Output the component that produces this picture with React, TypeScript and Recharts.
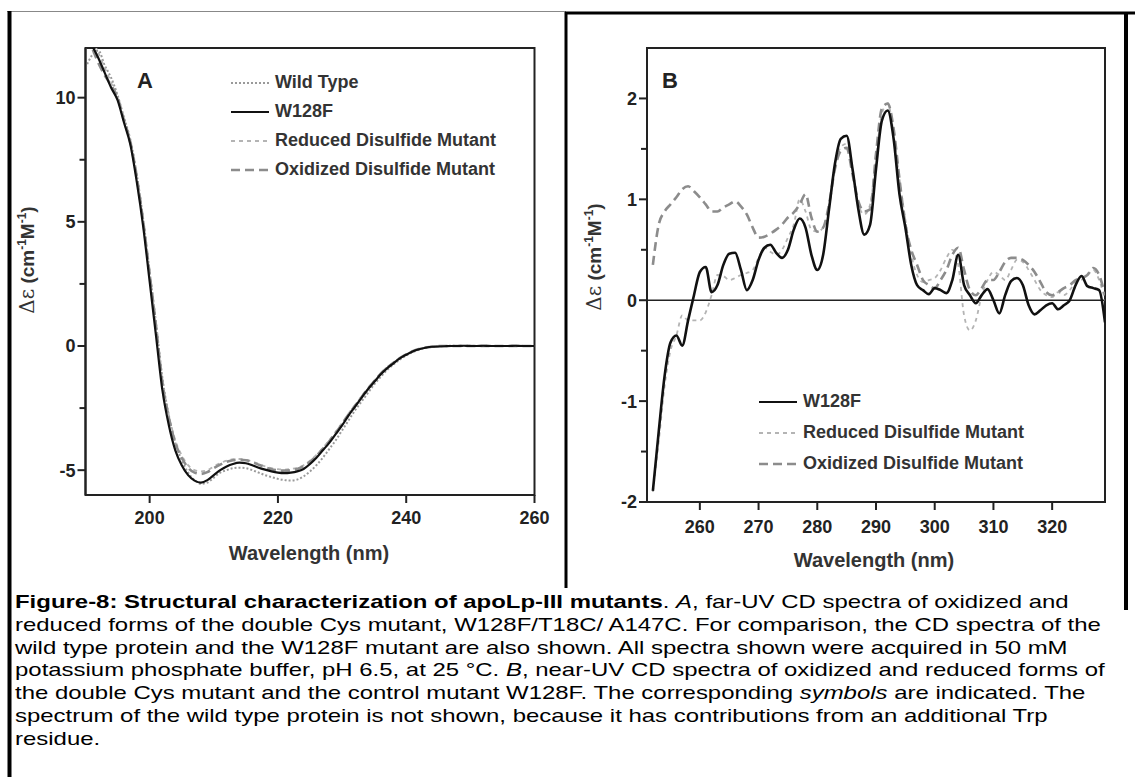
import React from 'react';
import { LineChart, Line, XAxis, YAxis, ReferenceArea, ReferenceLine, Legend } from 'recharts';

// ---------- Panel A (far-UV) ----------
const aWavelengths = [190,191,192,193,194,195,196,197,198,199,200,201,202,203,204,205,206,207,208,209,210,211,212,213,214,215,216,217,218,219,220,221,222,223,224,225,226,227,228,229,230,231,232,233,234,235,236,237,238,239,240,241,242,243,244,245,246,247,248,249,250,251,252,253,254,255,256,257,258,259,260];
const aWildType = [11.2,11.7,11.9,11.3,10.8,10.1,9.2,8.3,6.9,5.1,3.0,0.9,-1.3,-2.8,-3.9,-4.6,-5.1,-5.4,-5.55,-5.5,-5.3,-5.1,-5.0,-4.92,-4.9,-4.92,-5.0,-5.1,-5.2,-5.28,-5.35,-5.4,-5.42,-5.38,-5.25,-5.05,-4.8,-4.5,-4.15,-3.8,-3.4,-3.0,-2.6,-2.25,-1.9,-1.55,-1.25,-0.97,-0.75,-0.55,-0.38,-0.25,-0.15,-0.08,-0.04,-0.02,0.0,0.01,0.0,0.0,0.01,0.0,0.0,0.01,0.0,0.0,0.0,0.0,0.01,0.0,0.0];
const aW128F = [12.5,12.1,11.6,11.0,10.4,9.9,9.0,8.1,6.6,4.8,2.6,0.4,-1.8,-3.2,-4.2,-4.8,-5.2,-5.42,-5.5,-5.4,-5.2,-5.0,-4.85,-4.75,-4.7,-4.72,-4.8,-4.9,-4.98,-5.05,-5.1,-5.12,-5.1,-5.05,-4.95,-4.75,-4.5,-4.2,-3.9,-3.55,-3.2,-2.8,-2.45,-2.1,-1.75,-1.45,-1.15,-0.9,-0.7,-0.5,-0.35,-0.22,-0.13,-0.07,-0.03,-0.02,-0.01,0.0,0.0,0.01,0.0,0.0,0.01,0.0,0.0,0.0,0.0,0.01,0.0,0.0,0.0];
const aReduced = [12.0,12.3,11.8,11.2,10.6,10.0,9.1,8.2,6.8,5.0,2.9,0.8,-1.4,-2.8,-3.8,-4.4,-4.8,-5.0,-5.05,-5.0,-4.85,-4.72,-4.62,-4.56,-4.55,-4.58,-4.65,-4.75,-4.85,-4.92,-4.96,-4.98,-4.95,-4.9,-4.8,-4.62,-4.38,-4.1,-3.8,-3.45,-3.1,-2.72,-2.38,-2.04,-1.7,-1.4,-1.1,-0.86,-0.66,-0.48,-0.33,-0.2,-0.12,-0.06,-0.03,0.0,0.0,0.0,0.0,0.0,0.0,0.0,0.0,0.0,0.0,0.0,0.0,0.0,0.0,0.0,0.0];
const aOxidized = [12.4,12.0,11.4,10.9,10.5,10.0,9.1,8.2,6.8,5.0,2.9,0.8,-1.5,-2.9,-3.9,-4.5,-4.9,-5.1,-5.15,-5.08,-4.92,-4.78,-4.66,-4.6,-4.58,-4.6,-4.68,-4.78,-4.88,-4.96,-5.0,-5.02,-5.0,-4.95,-4.84,-4.66,-4.42,-4.14,-3.84,-3.5,-3.15,-2.76,-2.42,-2.07,-1.73,-1.42,-1.12,-0.88,-0.68,-0.49,-0.34,-0.21,-0.12,-0.06,-0.03,0.0,0.0,0.0,0.0,0.0,0.0,0.0,0.0,0.0,0.0,0.0,0.0,0.0,0.0,0.0,0.0];
const aXTicks = [200, 220, 240, 260];
const aYTicks = [-5, -2.5, 0, 2.5, 5, 7.5, 10];
const aYLabelled = [-5, 0, 5, 10];

// ---------- Panel B (near-UV) ----------
const bWavelengths = [252,253,254,255,256,257,258,259,260,261,262,263,264,265,266,267,268,269,270,271,272,273,274,275,276,277,278,279,280,281,282,283,284,285,286,287,288,289,290,291,292,293,294,295,296,297,298,299,300,301,302,303,304,305,306,307,308,309,310,311,312,313,314,315,316,317,318,319,320,321,322,323,324,325,326,327,328,329];
const bW128F = [-1.89,-1.3,-0.75,-0.42,-0.35,-0.45,-0.2,0.05,0.28,0.33,0.08,0.15,0.35,0.46,0.47,0.3,0.1,0.2,0.4,0.52,0.55,0.47,0.42,0.5,0.7,0.81,0.72,0.45,0.3,0.45,0.9,1.35,1.6,1.63,1.3,0.9,0.65,0.75,1.3,1.78,1.88,1.6,1.05,0.72,0.35,0.15,0.1,0.06,0.12,0.1,0.07,0.2,0.45,0.15,0.05,-0.03,0.05,0.11,0.0,-0.13,0.05,0.19,0.22,0.15,-0.05,-0.14,-0.1,-0.05,-0.03,-0.09,-0.05,0.0,0.15,0.24,0.14,0.12,0.1,-0.22];
const bReduced = [-1.9,-1.4,-0.85,-0.5,-0.35,-0.15,-0.2,-0.2,-0.2,-0.12,0.05,0.25,0.24,0.2,0.22,0.25,0.27,0.3,0.42,0.52,0.48,0.45,0.5,0.62,0.75,1.0,0.88,0.7,0.68,0.72,0.95,1.3,1.52,1.55,1.3,0.95,0.85,0.95,1.4,1.85,1.95,1.65,1.2,0.8,0.45,0.25,0.18,0.2,0.22,0.3,0.42,0.5,0.35,-0.15,-0.3,-0.2,0.05,0.2,0.28,0.25,0.2,0.3,0.4,0.38,0.3,0.2,0.1,0.05,0.03,0.08,0.05,0.1,0.18,0.2,0.25,0.3,0.2,0.0];
const bOxidized = [0.35,0.75,0.88,0.95,1.02,1.1,1.13,1.08,1.02,0.95,0.88,0.88,0.92,0.95,0.98,0.93,0.85,0.72,0.62,0.63,0.66,0.7,0.75,0.82,0.87,0.95,1.05,0.82,0.68,0.72,0.95,1.3,1.48,1.51,1.25,0.98,0.88,0.9,1.45,1.9,1.95,1.7,1.2,0.75,0.5,0.35,0.2,0.15,0.12,0.2,0.3,0.45,0.52,0.3,0.1,0.05,0.12,0.2,0.2,0.28,0.38,0.42,0.42,0.4,0.35,0.28,0.18,0.08,0.05,0.08,0.12,0.15,0.2,0.22,0.25,0.32,0.25,0.05];
const bXTicks = [260, 270, 280, 290, 300, 310, 320];
const bYTicks = [-2, -1.5, -1, -0.5, 0, 0.5, 1, 1.5, 2];
const bYLabelled = [-2, -1, 0, 1, 2];

const captionLines = [
  [{ t: 'Figure-8: Structural characterization of apoLp-III mutants', b: true }, { t: '. ' }, { t: 'A', i: true }, { t: ', far-UV CD spectra of oxidized and' }],
  [{ t: 'reduced forms of the double Cys mutant, W128F/T18C/ A147C. For comparison, the CD spectra of the' }],
  [{ t: 'wild type protein and the W128F mutant are also shown. All spectra shown were acquired in 50 mM' }],
  [{ t: 'potassium phosphate buffer, pH 6.5, at 25 °C. ' }, { t: 'B', i: true }, { t: ', near-UV CD spectra of oxidized and reduced forms of' }],
  [{ t: 'the double Cys mutant and the control mutant W128F. The corresponding ' }, { t: 'symbols', i: true }, { t: ' are indicated. The' }],
  [{ t: 'spectrum of the wild type protein is not shown, because it has contributions from an additional Trp' }],
  [{ t: 'residue.' }],
];

const FONT = 'Arial, "Liberation Sans", Helvetica, sans-serif';
const INK = '#222';

const styleWT = { name: 'Wild Type', color: '#9a9a9a', dash: '2 2', width: 2 };
const styleW = { name: 'W128F', color: '#111', dash: undefined as string | undefined, width: 2.2 };
const styleRed = { name: 'Reduced Disulfide Mutant', color: '#b4b4b4', dash: '4 4', width: 1.8 };
const styleOx = { name: 'Oxidized Disulfide Mutant', color: '#8c8c8c', dash: '9 5', width: 2.6 };

const aData = aWavelengths.map((w, i) => ({ w, wt: aWildType[i], w128: aW128F[i], red: aReduced[i], ox: aOxidized[i] }));
const bData = bWavelengths.map((w, i) => ({ w, w128: bW128F[i], red: bReduced[i], ox: bOxidized[i] }));

const makeYTick = (labelled: number[]) => (props: any) => {
  const { x, y, payload } = props;
  const major = labelled.includes(payload.value);
  return (
    <g>
      <line x1={x} x2={x - (major ? 8 : 6)} y1={y} y2={y} stroke={INK} strokeWidth={2} />
      {major && (
        <text x={x - 10} y={y} dy="0.36em" textAnchor="end" fontFamily={FONT} fontWeight="bold" fontSize={18} fill={INK}>
          {String(payload.value)}
        </text>
      )}
    </g>
  );
};

const makeXTick = (labelDy: number) => (props: any) => {
  const { x, y, payload } = props;
  return (
    <g>
      <line x1={x} x2={x} y1={y} y2={y + 8} stroke={INK} strokeWidth={2} />
      <text x={x} y={y + labelDy} dy="0.36em" textAnchor="middle" fontFamily={FONT} fontWeight="bold" fontSize={18} fill={INK}>
        {String(payload.value)}
      </text>
    </g>
  );
};

const makeLegend = (items: typeof styleW[], rowH: number) => () => (
  <div style={{ fontFamily: FONT, fontWeight: 'bold', fontSize: 18, color: '#333' }}>
    {items.map((s) => (
      <div key={s.name} style={{ height: rowH, display: 'flex', alignItems: 'center', whiteSpace: 'nowrap' }}>
        <svg width={40} height={10} style={{ marginRight: 5 }}>
          <line x1={1} x2={39} y1={5} y2={5} stroke={s.color} strokeWidth={s.width} strokeDasharray={s.dash} />
        </svg>
        <span>{s.name}</span>
      </div>
    ))}
  </div>
);

const YLabel = ({ x, y }: { x: number; y: number }) => (
  <text transform={`rotate(-90 ${x} ${y})`} x={x} y={y} textAnchor="middle" dy="0.35em" fontFamily={FONT} fontWeight="bold" fontSize={19} fill="#333">
    <tspan fontFamily='"DejaVu Serif", "Liberation Serif", serif' fontWeight="normal" fontSize={20}>Δε</tspan>
    <tspan> (cm</tspan>
    <tspan fontSize={12} dy={-8}>-1</tspan>
    <tspan dy={8}>M</tspan>
    <tspan fontSize={12} dy={-8}>-1</tspan>
    <tspan dy={8}>)</tspan>
  </text>
);

export default function App() {
  return (
    <div style={{ position: 'absolute', left: 0, top: 0, width: 1135, height: 777, background: '#fff', overflow: 'hidden' }}>
      {/* Panel A */}
      <div style={{ position: 'absolute', left: 0, top: 0 }}>
        <LineChart width={565} height={600} data={aData} margin={{ top: 48, right: 30.5, bottom: 65, left: 0 }}>
          <XAxis dataKey="w" type="number" domain={[190, 260]} ticks={aXTicks} interval={0} allowDataOverflow
            height={40} tickSize={0} tickMargin={0} tickLine={false} axisLine={{ stroke: INK, strokeWidth: 2 }} tick={makeXTick(23)} />
          <YAxis type="number" domain={[-6, 12]} ticks={aYTicks} interval={0} allowDataOverflow width={85.5}
            tickSize={0} tickMargin={0} tickLine={false} axisLine={{ stroke: INK, strokeWidth: 2 }} tick={makeYTick(aYLabelled)} />
          <ReferenceArea x1={190} x2={260} y1={-6} y2={12} fill="none" fillOpacity={0} stroke={INK} strokeWidth={2} />
          <Line dataKey="wt" name={styleWT.name} type="monotone" stroke={styleWT.color} strokeWidth={styleWT.width} strokeDasharray={styleWT.dash} dot={false} isAnimationActive={false} />
          <Line dataKey="red" name={styleRed.name} type="monotone" stroke={styleRed.color} strokeWidth={styleRed.width} strokeDasharray={styleRed.dash} dot={false} isAnimationActive={false} />
          <Line dataKey="ox" name={styleOx.name} type="monotone" stroke={styleOx.color} strokeWidth={styleOx.width} strokeDasharray={styleOx.dash} dot={false} isAnimationActive={false} />
          <Line dataKey="w128" name={styleW.name} type="monotone" stroke={styleW.color} strokeWidth={styleW.width} dot={false} isAnimationActive={false} />
          <Legend layout="vertical" align="center" verticalAlign="middle" wrapperStyle={{ left: 230, top: 68, width: 300 }} content={makeLegend([styleWT, styleW, styleRed, styleOx], 29)} />
        </LineChart>
      </div>
      {/* Panel B */}
      <div style={{ position: 'absolute', left: 0, top: 0 }}>
        <LineChart width={1135} height={600} data={bData} margin={{ top: 48, right: 30, bottom: 58, left: 587 }}>
          <XAxis dataKey="w" type="number" domain={[251, 329]} ticks={bXTicks} interval={0} allowDataOverflow
            height={40} tickSize={0} tickMargin={0} tickLine={false} axisLine={{ stroke: INK, strokeWidth: 2 }} tick={makeXTick(25)} />
          <YAxis type="number" domain={[-2, 2.5]} ticks={bYTicks} interval={0} allowDataOverflow width={60}
            tickSize={0} tickMargin={0} tickLine={false} axisLine={{ stroke: INK, strokeWidth: 2 }} tick={makeYTick(bYLabelled)} />
          <ReferenceArea x1={251} x2={329} y1={-2} y2={2.5} fill="none" fillOpacity={0} stroke={INK} strokeWidth={2} />
          <ReferenceLine y={0} stroke={INK} strokeWidth={1.6} />
          <Line dataKey="red" name={styleRed.name} type="monotone" stroke={styleRed.color} strokeWidth={styleRed.width} strokeDasharray={styleRed.dash} dot={false} isAnimationActive={false} />
          <Line dataKey="ox" name={styleOx.name} type="monotone" stroke={styleOx.color} strokeWidth={styleOx.width} strokeDasharray={styleOx.dash} dot={false} isAnimationActive={false} />
          <Line dataKey="w128" name={styleW.name} type="monotone" stroke={styleW.color} strokeWidth={2.6} dot={false} isAnimationActive={false} />
          <Legend layout="vertical" align="center" verticalAlign="middle" wrapperStyle={{ left: 758, top: 386, width: 320 }} content={makeLegend([styleW, styleRed, styleOx], 31)} />
        </LineChart>
      </div>
      {/* Titles, labels and frame */}
      <svg width={1135} height={777} style={{ position: 'absolute', left: 0, top: 0, pointerEvents: 'none' }}>
        <line x1={7} x2={566} y1={11.5} y2={11.5} stroke="#888" strokeWidth={1} />
        <line x1={565} x2={1135} y1={13} y2={13} stroke="#000" strokeWidth={3} />
        <line x1={9.5} x2={9.5} y1={11} y2={777} stroke="#000" strokeWidth={4} />
        <line x1={566} x2={566} y1={12} y2={588} stroke="#000" strokeWidth={3} />
        <line x1={1126} x2={1126} y1={13} y2={610} stroke="#000" strokeWidth={4} />
        <text x={145} y={80} dy="0.36em" textAnchor="middle" fontFamily={FONT} fontWeight="bold" fontSize={22} fill={INK}>A</text>
        <text x={670} y={80} dy="0.36em" textAnchor="middle" fontFamily={FONT} fontWeight="bold" fontSize={22} fill={INK}>B</text>
        <text x={309} y={553} dy="0.36em" textAnchor="middle" fontFamily={FONT} fontWeight="bold" fontSize={20} fill="#333">Wavelength (nm)</text>
        <text x={874} y={560} dy="0.36em" textAnchor="middle" fontFamily={FONT} fontWeight="bold" fontSize={20} fill="#333">Wavelength (nm)</text>
        <YLabel x={27} y={260} />
        <YLabel x={594} y={257} />
      </svg>
      {/* Caption */}
      <div style={{ position: 'absolute', left: 15, top: 591, fontFamily: FONT, fontSize: 19, lineHeight: '22.8px', color: '#000', transform: 'scaleX(1.26)', transformOrigin: '0 0' }}>
        {captionLines.map((line, k) => (
          <div key={k} style={{ whiteSpace: 'nowrap' }}>
            {line.map((s: any, j) => (
              <span key={j} style={{ fontWeight: s.b ? 'bold' : 'normal', fontStyle: s.i ? 'italic' : 'normal' }}>{s.t}</span>
            ))}
          </div>
        ))}
      </div>
    </div>
  );
}
